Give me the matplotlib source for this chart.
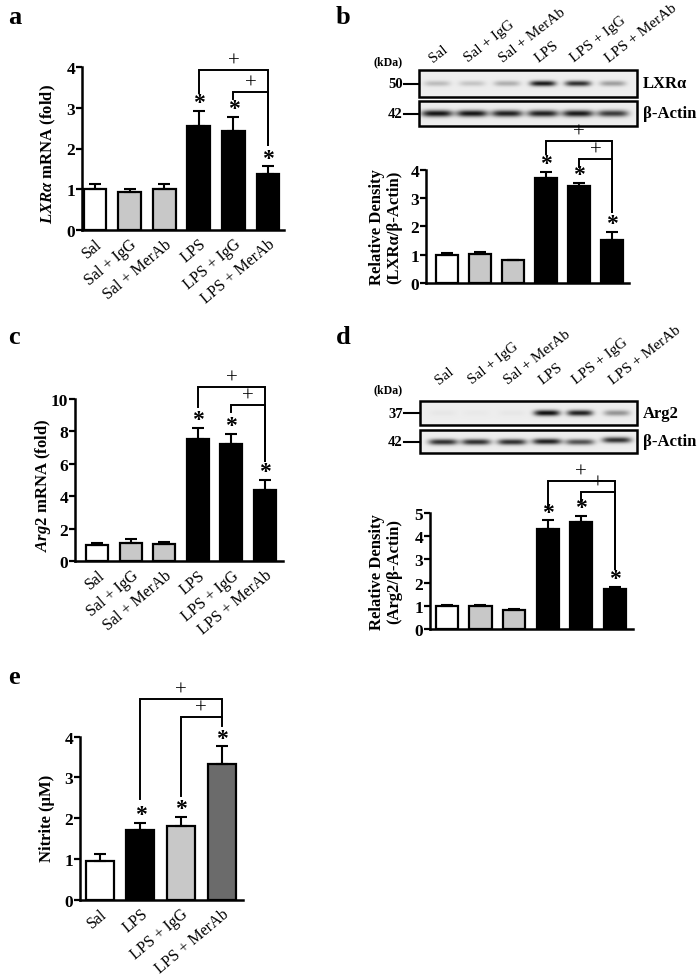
import numpy as np
import matplotlib
matplotlib.use("Agg")
import matplotlib.pyplot as plt
from matplotlib.patches import Rectangle

plt.rcParams['font.family'] = ['Liberation Serif', 'DejaVu Serif']
plt.rcParams['mathtext.fontset'] = 'custom'
plt.rcParams['mathtext.rm'] = 'Liberation Serif:bold'
plt.rcParams['mathtext.it'] = 'Liberation Serif:italic:bold'
plt.rcParams['mathtext.bf'] = 'Liberation Serif:bold'

W, H = 697, 978

# ---------------- data ----------------
groups6 = ["Sal", "Sal + IgG", "Sal + MerAb", "LPS", "LPS + IgG", "LPS + MerAb"]
colors6 = ["#ffffff", "#c8c8c8", "#c8c8c8", "#000000", "#000000", "#000000"]

a_vals = [1.00, 0.93, 1.00, 2.55, 2.42, 1.38]
a_err = [0.12, 0.08, 0.13, 0.38, 0.35, 0.18]

b_vals = [1.00, 1.03, 0.80, 3.72, 3.42, 1.52]
b_err = [0.05, 0.05, 0.00, 0.19, 0.12, 0.28]

c_vals = [1.00, 1.15, 1.05, 7.55, 7.20, 4.40]
c_err = [0.12, 0.25, 0.12, 0.65, 0.65, 0.60]

d_vals = [1.00, 0.98, 0.82, 4.30, 4.63, 1.72]
d_err = [0.02, 0.05, 0.04, 0.38, 0.24, 0.11]

groups4 = ["Sal", "LPS", "LPS + IgG", "LPS + MerAb"]
colors4 = ["#ffffff", "#000000", "#c8c8c8", "#6b6b6b"]
e_vals = [0.94, 1.72, 1.80, 3.32]
e_err = [0.17, 0.17, 0.22, 0.44]

# blot band intensities (0 = none, 1 = darkest)
lxr_bands = [0.22, 0.18, 0.28, 0.95, 0.85, 0.35]
actin_b_bands = [0.97, 0.97, 0.92, 0.92, 0.95, 0.80]
arg2_bands = [0.03, 0.02, 0.03, 1.00, 0.92, 0.40]
actin_d_bands = [0.85, 0.85, 0.85, 0.92, 0.70, 0.85]

ROT = 40
ROT_BLOT = 38

fig = plt.figure(figsize=(W / 100, H / 100), dpi=100)
fa = fig.add_axes([0, 0, 1, 1])
fa.set_xlim(0, W)
fa.set_ylim(H, 0)
fa.axis('off')


def px_axes(left, top, right, bottom):
    return fig.add_axes([left / W, 1 - bottom / H, (right - left) / W, (bottom - top) / H])


def bar_panel(ax, vals, errs, colors, labels, ymax, yticks, xlim, show_xlabels=True, width=0.66):
    x = np.arange(len(vals))
    ax.bar(x, vals, width=width, color=colors, edgecolor='black', linewidth=1.6, zorder=2)
    ax.errorbar(x, vals, yerr=[np.zeros(len(errs)), errs], fmt='none', ecolor='black',
                elinewidth=1.5, capsize=4.5, capthick=1.5, zorder=3)
    ax.set_xlim(*xlim)
    ax.set_ylim(0, ymax)
    ax.set_yticks(yticks)
    ax.spines['top'].set_visible(False)
    ax.spines['right'].set_visible(False)
    ax.spines['left'].set_linewidth(1.8)
    ax.spines['bottom'].set_linewidth(1.8)
    ax.tick_params(axis='y', direction='out', length=4, width=1.6, labelsize=12.5, pad=1)
    ax.tick_params(axis='x', length=0, pad=4)
    for t in ax.get_yticklabels():
        t.set_fontweight('bold')
    ax.set_xticks(x)
    if show_xlabels:
        ax.set_xticklabels(labels, rotation=ROT, ha='right', rotation_mode='anchor', fontsize=11.5)
    else:
        ax.set_xticklabels([])
    ax.patch.set_alpha(0)
    return x


def stars(ax, idx, vals, errs, off=-1.5):
    for i in idx:
        ax.annotate('*', (i, vals[i] + errs[i]), xytext=(0, off), textcoords='offset points',
                    ha='center', va='bottom', fontsize=17, fontweight='bold', annotation_clip=False)


def bracket(ax, x1, x2, top, yb1, yb2, plus=True):
    ax.plot([x1, x1, x2, x2], [yb1, top, top, yb2], color='black', lw=1.4, clip_on=False,
            solid_joinstyle='miter', zorder=4)
    if plus:
        ax.annotate('+', ((x1 + x2) / 2, top), xytext=(0, -0.5), textcoords='offset points',
                    ha='center', va='bottom', fontsize=15, annotation_clip=False)


def panel_letter(x, y, s):
    fa.text(x, y, s, fontsize=19, fontweight='bold', ha='left', va='center')


def blot(lanes, top, bottom, left, right, bands, wband=13.0, sig=3.2, yshift=None):
    w = int(right - left)
    h = int(bottom - top)
    xx = np.linspace(left, right, w * 2)
    yy = np.linspace(top, bottom, h * 2)
    X, Y = np.meshgrid(xx, yy)
    yc = (top + bottom) / 2
    img = np.full(X.shape, 0.93)
    for i, (lx, v) in enumerate(zip(lanes, bands)):
        dy = 0 if yshift is None else yshift[i]
        prof = np.exp(-(np.abs(X - lx) / wband) ** 4) * np.exp(-((Y - yc - dy) / sig) ** 2)
        img -= 0.88 * v * prof
    img = np.clip(img, 0, 1)
    fa.imshow(img, cmap='gray', vmin=0, vmax=1, extent=(left, right, bottom, top),
              origin='upper', aspect='auto', interpolation='bilinear', zorder=1)
    fa.add_patch(Rectangle((left, top), right - left, bottom - top, fill=False,
                           edgecolor='black', lw=1.8, zorder=2))
    fa.set_xlim(0, W)
    fa.set_ylim(H, 0)


def blot_block(lanes, box1, box2, marker1, marker2, name1, kda_y, label_y):
    (l, t1, r, b1) = box1
    (_, t2, _, b2) = box2
    for lx, g in zip(lanes, groups6):
        fa.text(lx - 4, label_y, g, rotation=ROT_BLOT, ha='left', va='baseline',
                rotation_mode='anchor', fontsize=11)
    fa.text(388, kda_y, '(kDa)', fontsize=8.5, fontweight='bold', ha='center', va='center')
    for (tt, bb, m, nm) in [(t1, b1, marker1, name1), (t2, b2, marker2, 'β-Actin')]:
        yc = (tt + bb) / 2
        fa.text(403, yc, m, fontsize=10.5, fontweight='bold', ha='right', va='center')
        fa.plot([404, l], [yc, yc], color='black', lw=1.5)
        fa.text(r + 6, yc, nm, fontsize=12, fontweight='bold', ha='left', va='center')


# ---------------- panel a ----------------
ax_a = px_axes(82, 68, 284, 231)
xa = bar_panel(ax_a, a_vals, a_err, colors6, groups6, 4, [0, 1, 2, 3, 4], (-0.375, 5.46))
stars(ax_a, [3, 4, 5], a_vals, a_err)
bracket(ax_a, 3, 5, 3.93, 3.36, 2.09)
bracket(ax_a, 4, 5, 3.39, 3.21, 2.09)
fa.text(48, 154, r'$LXR\alpha$ mRNA (fold)', rotation=90, ha='center', va='center',
        fontsize=12, fontweight='bold')
panel_letter(8, 18, 'a')

# ---------------- panel b ----------------
lanes_b = [437, 472, 507, 543, 578, 613]
blot(lanes_b, 71, 98, 419, 637, lxr_bands, sig=2.8)
blot(lanes_b, 102, 127, 419, 637, actin_b_bands, wband=15.5, sig=3.4)
blot_block(lanes_b, (419, 71, 637, 98), (419, 102, 637, 127), '50', '42', 'LXRα', 62, 63)
ax_b = px_axes(426, 170.7, 629, 284)
bar_panel(ax_b, b_vals, b_err, colors6, groups6, 4, [0, 1, 2, 3, 4], (-0.64, 5.52),
          show_xlabels=False)
stars(ax_b, [3, 4, 5], b_vals, b_err)
bracket(ax_b, 3, 5, 5.03, 4.56, 2.5)
bracket(ax_b, 4, 5, 4.38, 4.09, 2.5)
fa.text(386, 227, 'Relative Density\n(LXRα/β-Actin)', rotation=90, ha='center', va='center',
        fontsize=12, fontweight='bold', linespacing=1.1)
panel_letter(336, 18, 'b')

# ---------------- panel c ----------------
ax_c = px_axes(75, 400, 283, 562.3)
bar_panel(ax_c, c_vals, c_err, colors6, groups6, 10, [0, 2, 4, 6, 8, 10], (-0.67, 5.54))
stars(ax_c, [3, 4, 5], c_vals, c_err)
bracket(ax_c, 3, 5, 10.72, 9.49, 6.2)
bracket(ax_c, 4, 5, 9.63, 9.18, 6.2)
fa.text(43, 485, r'$Arg2$ mRNA (fold)', rotation=90, ha='center', va='center',
        fontsize=12, fontweight='bold')
panel_letter(8, 338, 'c')

# ---------------- panel d ----------------
lanes_d = [443, 476, 512, 547, 580, 617]
blot(lanes_d, 402, 426, 420, 637, arg2_bands, sig=3.0)
blot(lanes_d, 431, 454, 420, 637, actin_d_bands, wband=14.5, sig=3.0,
     yshift=[0.5, 0.5, 0.5, 0, 0.5, -1.5])
blot_block(lanes_d, (420, 402, 637, 426), (420, 431, 637, 454), '37', '42', 'Arg2', 390, 385)
ax_d = px_axes(430, 514, 633, 630)
bar_panel(ax_d, d_vals, d_err, colors6, groups6, 5, [0, 1, 2, 3, 4, 5], (-0.5, 5.54),
          show_xlabels=False)
stars(ax_d, [3, 4, 5], d_vals, d_err)
bracket(ax_d, 3, 5, 6.39, 5.17, 2.59)
bracket(ax_d, 4, 5, 5.92, 5.53, 2.59)
fa.text(386, 572, 'Relative Density\n(Arg2/β-Actin)', rotation=90, ha='center', va='center',
        fontsize=12, fontweight='bold', linespacing=1.1)
panel_letter(336, 338, 'd')

# ---------------- panel e ----------------
ax_e = px_axes(80, 737.7, 242.7, 900.7)
bar_panel(ax_e, e_vals, e_err, colors4, groups4, 4, [0, 1, 2, 3, 4], (-0.49, 3.52), width=0.69)
stars(ax_e, [1, 2, 3], e_vals, e_err)
bracket(ax_e, 1, 3, 4.93, 2.47, 4.48)
bracket(ax_e, 2, 3, 4.48, 2.54, 4.27)
fa.text(47, 818, 'Nitrite (μM)', rotation=90, ha='center', va='center',
        fontsize=12, fontweight='bold')
panel_letter(8, 677, 'e')

fig.savefig('out.png', dpi=100)
